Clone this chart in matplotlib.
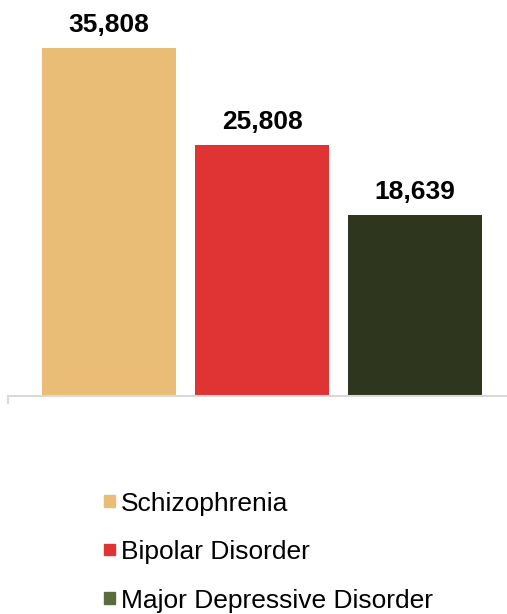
import matplotlib.pyplot as plt
from matplotlib.patches import Patch

plt.rcParams['font.family'] = ['Liberation Sans', 'DejaVu Sans']

categories = ['Schizophrenia', 'Bipolar Disorder', 'Major Depressive Disorder']
values = [35808, 25808, 18639]
bar_colors = ['#e9bd76', '#e03434', '#2e361e']
legend_colors = ['#e9bd76', '#e03434', '#5b6b3b']

fig = plt.figure(figsize=(5.07, 6.14), dpi=100)
ax = fig.add_axes([8 / 507, 1 - 396 / 614, 1 - 8 / 507, 390 / 614])

x = range(len(categories))
ax.bar(x, values, width=0.876, color=bar_colors)
for xi, v in zip(x, values):
    ax.annotate(f'{v:,}', (xi, v), xytext=(0, 8), textcoords='offset points',
                ha='center', va='bottom', fontsize=19, fontweight='bold')

ax.set_xlim(-0.66, 2.6)
ax.set_ylim(0, 35808 * 390 / 348)
for s in ['top', 'right', 'left']:
    ax.spines[s].set_visible(False)
ax.spines['bottom'].set_color('#d9d9d9')
ax.spines['bottom'].set_linewidth(1.5)
ax.set_yticks([])
ax.set_xticks([-0.66])
ax.set_xticklabels([])
ax.tick_params(axis='x', length=6, width=1.5, color='#d9d9d9')

handles = [Patch(color=c) for c in legend_colors]
fig.legend(handles, categories, loc='upper left', bbox_to_anchor=(93 / 507, 1 - 481 / 614),
           frameon=False, fontsize=19, handlelength=0.45, handleheight=0.3,
           handletextpad=0.2, labelspacing=0.93, borderaxespad=0)

fig.savefig('out.png', dpi=100)
